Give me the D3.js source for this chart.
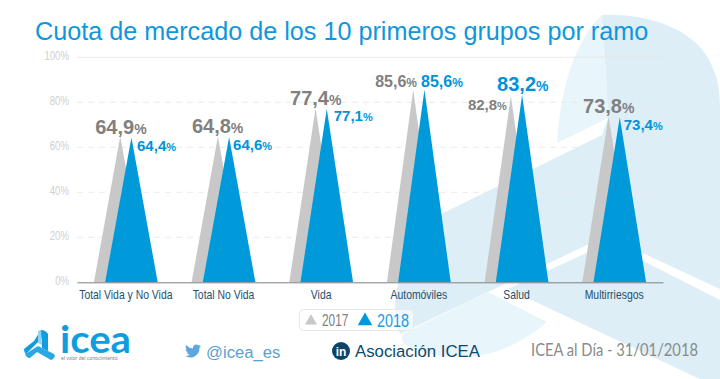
<!DOCTYPE html>
<html>
<head>
<meta charset="utf-8">
<script src="https://cdn.jsdelivr.net/npm/d3@7"></script>
<style>
  html, body { margin: 0; padding: 0; background: #fff; }
  svg { display: block; }
</style>
</head>
<body>
<div id="chart"></div>
<script>
const categories = ["Total Vida y No Vida", "Total No Vida", "Vida", "Automóviles", "Salud", "Multirriesgos"];
const seriesNames = ["2017", "2018"];
const values2017 = [64.9, 64.8, 77.4, 85.6, 82.8, 73.8];
const values2018 = [64.4, 64.6, 77.1, 85.6, 83.2, 73.4];
const yTicks = [0, 20, 40, 60, 80, 100];

// label placement relative to the apex of each triangle
const labels2017 = [
  { dx: -25, dy: -2, size: 20 }, { dx: -26, dy: -3.5, size: 20 }, { dx: -25.5, dy: -3, size: 20 },
  { dx: -38, dy: -3, size: 16 }, { dx: -43, dy: 14, size: 15 }, { dx: -25.5, dy: -3, size: 20 }
];
const labels2018 = [
  { dx: 5.6, dy: 14, size: 15 }, { dx: 4, dy: 13, size: 15 }, { dx: 7, dy: 12, size: 15 },
  { dx: -3.4, dy: -3, size: 16 }, { dx: -25, dy: -4, size: 20 }, { dx: 4, dy: 13, size: 15 }
];

const width = 720, height = 379;
const margin = { left: 77, right: 57, top: 57.3, bottom: 96.7 };
const triangleWidth = 52.6;
const colors = { "2017": "#c8c8c8", "2018": "#0099da" };
const labelColors = { "2017": "#808080", "2018": "#0093da" };
const sans = "'Liberation Sans', Arial, sans-serif";

// no narrow face installed, so squeeze the regular one horizontally
const squeeze = (sel, factor) => sel.each(function() {
  d3.select(this)
    .attr("textLength", this.getComputedTextLength() * factor)
    .attr("lengthAdjust", "spacingAndGlyphs");
});

let svg = d3.select("#chart").append("svg")
  .attr("width", width)
  .attr("height", height);

// watermark behind the chart
let bg = svg.append("g");
bg.append("path")
  .attr("fill", "#ddeef7")
  .attr("d", "M602,15 C650,13 692,30 708,58 C718,76 720,90 720,110 L720,289 L606,236 L488,292 L400,334 C392,315 394,290 404,267 C412,248 422,230 433,218 L602,135 L608,118 C607,85 604,50 602,15 Z");
bg.append("path")
  .attr("fill", "#ddeef7")
  .attr("d", "M508,289 L608,243 L720,300 L720,379 L700,379 Z");
bg.append("path")
  .attr("fill", "#e8f5fb")
  .attr("d", "M602,15 C575,40 560,90 557,143 L608,118 C607,85 604,50 602,15 Z");
bg.append("path")
  .attr("fill", "#e8f5fb")
  .attr("d", "M488,292 L403,334 C402,338 402,340 403,343 C425,358 470,362 500,350 C520,343 535,332 547,322 Z");

let g = svg.append("g")
  .attr("transform", "translate(" + margin.left + "," + margin.top + ")");

let innerWidth = width - margin.left - margin.right;
let innerHeight = height - margin.top - margin.bottom;

let x = d3.scaleBand().domain(categories).range([0, innerWidth]);
let xSeries = d3.scalePoint().domain(seriesNames).range([-5.6, 5.6]);
let y = d3.scaleLinear().domain([0, 100]).range([innerHeight, 0]);

// gridlines
g.selectAll(".grid")
  .data(yTicks.filter(d => d > 0))
  .enter()
  .append("line")
  .attr("class", "grid")
  .attr("x1", 0)
  .attr("x2", innerWidth)
  .attr("y1", d => y(d))
  .attr("y2", d => y(d))
  .attr("stroke", "#e6e6e6")
  .attr("stroke-opacity", 0.8)
  .attr("stroke-dasharray", d => d === 100 ? null : "6,5");

// axes
let yAxis = g.append("g")
  .call(d3.axisLeft(y).tickValues(yTicks).tickSize(0).tickPadding(8).tickFormat(d => d + "%"));
yAxis.select(".domain").remove();
yAxis.selectAll("text")
  .attr("dy", "0.2em")
  .attr("font-family", sans)
  .attr("font-size", "12px")
  .attr("fill", "#cfcfcf")
  .call(squeeze, 0.8);

let triangle = d3.line();

let series = [
  { name: "2017", values: values2017, labels: labels2017 },
  { name: "2018", values: values2018, labels: labels2018 }
];

series.forEach(s => {
  let cx = i => x(categories[i]) + x.bandwidth() / 2 + xSeries(s.name);

  g.selectAll(".tri-" + s.name)
    .data(s.values)
    .enter()
    .append("path")
    .attr("class", "tri-" + s.name)
    .attr("fill", colors[s.name])
    .attr("d", (d, i) => triangle([
      [cx(i) - triangleWidth / 2, y(0)],
      [cx(i), y(d)],
      [cx(i) + triangleWidth / 2, y(0)]
    ]));
});

series.forEach(s => {
  let cx = i => x(categories[i]) + x.bandwidth() / 2 + xSeries(s.name);

  let text = g.selectAll(".lab-" + s.name)
    .data(s.values)
    .enter()
    .append("text")
    .attr("class", "lab-" + s.name)
    .attr("x", (d, i) => cx(i) + s.labels[i].dx)
    .attr("y", (d, i) => y(d) + s.labels[i].dy)
    .attr("font-family", sans)
    .attr("font-weight", "bold")
    .attr("fill", labelColors[s.name]);
  text.append("tspan")
    .attr("font-size", (d, i) => s.labels[i].size + "px")
    .text(d => d.toFixed(1).replace(".", ","));
  text.append("tspan")
    .attr("font-size", (d, i) => Math.round(s.labels[i].size * 0.72) + "px")
    .text("%");
});

let xAxis = g.append("g")
  .attr("transform", "translate(0," + innerHeight + ")")
  .call(d3.axisBottom(x).tickSize(0).tickPadding(7));
xAxis.select(".domain").attr("stroke", "#808080");
xAxis.selectAll("text")
  .attr("font-family", sans)
  .attr("font-size", "13px")
  .attr("fill", "#24506e")
  .call(squeeze, 0.8);

// title
svg.append("text")
  .attr("x", 35)
  .attr("y", 40)
  .attr("font-family", sans)
  .attr("font-size", "25.2px")
  .attr("fill", "#0f97dc")
  .text("Cuota de mercado de los 10 primeros grupos por ramo");

// legend
let legend = svg.append("g");
legend.append("rect")
  .attr("x", 299.5).attr("y", 309.5)
  .attr("width", 114).attr("height", 21).attr("rx", 4)
  .attr("fill", "#fff").attr("fill-opacity", 0.6)
  .attr("stroke", "#e8e8e8");
legend.append("path").attr("fill", colors["2017"]).attr("d", d3.symbol(d3.symbolTriangle, 62)).attr("transform", "translate(311,321)");
legend.append("text").attr("x", 322).attr("y", 325.5).attr("font-family", sans).attr("font-size", "16px").attr("fill", "#808080").text(seriesNames[0]).call(squeeze, 0.74);
legend.append("path").attr("fill", colors["2018"]).attr("d", d3.symbol(d3.symbolTriangle, 92)).attr("transform", "translate(365,321)");
legend.append("text").attr("x", 377).attr("y", 326.5).attr("font-family", sans).attr("font-size", "18px").attr("fill", "#1b9bdc").text(seriesNames[1]).call(squeeze, 0.8);

// footer
let logo = svg.append("g");
logo.append("path").attr("fill", "#0f9ddf").attr("d", "M41,330 C44,330 47,332 48,334 L48,351 L42,348 L42,338 L27,353 C25,353 24,351 24,349 L34,341 Z");
logo.append("path").attr("fill", "#2aa8e4").attr("d", "M27,353 L38,346 L54,354 C56,356 54,359 51,360 L37,352 L30,358 C27,358 25,356 24,349 Z");
logo.append("path").attr("fill", "#8fd2f1").attr("d", "M38,331 L41,330 L42,345 L38,343 Z");
logo.append("text").attr("x", 60).attr("y", 353).attr("font-family", "Lato, sans-serif").attr("font-weight", "bold").attr("font-size", "38px").attr("fill", "#0f9ddf").attr("textLength", 71).attr("lengthAdjust", "spacingAndGlyphs").text("icea");
logo.append("text").attr("x", 61).attr("y", 360).attr("font-family", "Lato, sans-serif").attr("font-size", "5.2px").attr("fill", "#7a8a94").text("el valor del conocimiento");

svg.append("path")
  .attr("fill", "#5ca7e0")
  .attr("transform", "translate(185,343) scale(0.67)")
  .attr("d", "M23.953 4.57a10 10 0 01-2.825.775 4.958 4.958 0 002.163-2.723c-.951.555-2.005.959-3.127 1.184a4.92 4.92 0 00-8.384 4.482C7.69 8.095 4.067 6.13 1.64 3.162a4.822 4.822 0 00-.666 2.475c0 1.71.87 3.213 2.188 4.096a4.904 4.904 0 01-2.228-.616v.06a4.923 4.923 0 003.946 4.827 4.996 4.996 0 01-2.212.085 4.936 4.936 0 004.604 3.417 9.867 9.867 0 01-6.102 2.105c-.39 0-.779-.023-1.17-.067a13.995 13.995 0 007.557 2.209c9.053 0 13.998-7.496 13.998-13.985 0-.21 0-.42-.015-.63A9.935 9.935 0 0024 4.59z");
svg.append("text").attr("x", 206).attr("y", 358).attr("font-family", sans).attr("font-size", "16.7px").attr("fill", "#5c9fcf").text("@icea_es");

svg.append("circle").attr("cx", 341).attr("cy", 351).attr("r", 9).attr("fill", "#0b4468");
svg.append("text").attr("x", 341).attr("y", 355.5).attr("text-anchor", "middle").attr("font-family", sans).attr("font-weight", "bold").attr("font-size", "12px").attr("fill", "#fff").text("in");
svg.append("text").attr("x", 355).attr("y", 357).attr("font-family", sans).attr("font-size", "16.8px").attr("fill", "#0d4a6b").text("Asociación ICEA");

svg.append("text").attr("x", 531).attr("y", 356).attr("font-family", "Lato, sans-serif").attr("font-size", "16.5px").attr("fill", "#8a8a8a").attr("textLength", 167).attr("lengthAdjust", "spacingAndGlyphs").text("ICEA al Día - 31/01/2018");
</script>
</body>
</html>
